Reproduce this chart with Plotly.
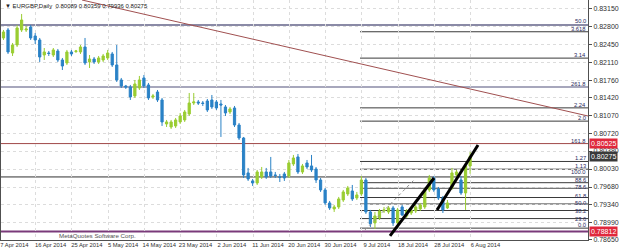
import plotly.graph_objects as go

# ---------------- data ----------------
bar_index = list(range(104))

open_ = [0.82580, 0.82736, 0.82288, 0.82444, 0.82736, 0.82736, 0.82794, 0.82619, 0.82541, 0.82249,
         0.82288, 0.82249, 0.82327, 0.82152, 0.82094, 0.82308, 0.82317, 0.82308, 0.82405, 0.82113,
         0.82171, 0.82113, 0.82152, 0.82191, 0.82269, 0.82055, 0.81763, 0.81646, 0.81627, 0.81452,
         0.81607, 0.81802, 0.81666, 0.81432, 0.81529, 0.81374, 0.80907, 0.80848, 0.80868, 0.80946,
         0.80985, 0.81101, 0.81315, 0.81335, 0.81315, 0.81354, 0.81374, 0.81335, 0.81296, 0.81238,
         0.81140, 0.81218, 0.80887, 0.80634, 0.79954, 0.79798, 0.79759, 0.79876, 0.79973, 0.79973,
         0.79915, 0.79876, 0.79934, 0.79895, 0.80129, 0.80265, 0.79973, 0.80148, 0.80090, 0.80031,
         0.79817, 0.79623, 0.79370, 0.79253, 0.79292, 0.79428, 0.79545, 0.79603, 0.79467, 0.79545,
         0.79817, 0.79195, 0.78981, 0.79078, 0.79214, 0.79195, 0.79273, 0.78981, 0.79292, 0.79117,
         0.79175, 0.79214, 0.79253, 0.79292, 0.79623, 0.79856, 0.79642, 0.79467, 0.79273, 0.79662,
         0.79915, 0.79817, 0.79564, 0.80089]
high = [0.82736, 0.82775, 0.82483, 0.82833, 0.83047, 0.82813, 0.82833, 0.82677, 0.82580, 0.82385,
        0.82327, 0.82385, 0.82366, 0.82191, 0.82347, 0.82347, 0.82347, 0.82444, 0.82580, 0.82249,
        0.82210, 0.82230, 0.82269, 0.82347, 0.82308, 0.82444, 0.81802, 0.81666, 0.81666, 0.81763,
        0.81841, 0.81860, 0.81705, 0.81491, 0.81568, 0.81413, 0.80985, 0.80985, 0.81024, 0.81121,
        0.81179, 0.81510, 0.81510, 0.81374, 0.81354, 0.81393, 0.81471, 0.81374, 0.81374, 0.81276,
        0.81238, 0.81257, 0.80926, 0.80654, 0.80051, 0.79837, 0.80012, 0.80070, 0.80051, 0.80265,
        0.79973, 0.79934, 0.79973, 0.80206, 0.80304, 0.80323, 0.80129, 0.80206, 0.80304, 0.80070,
        0.79856, 0.79662, 0.79409, 0.79331, 0.79487, 0.79623, 0.79701, 0.79720, 0.79584, 0.79895,
        0.79856, 0.79234, 0.79195, 0.79253, 0.79292, 0.79312, 0.79312, 0.79273, 0.79331, 0.79253,
        0.79273, 0.79331, 0.79370, 0.79662, 0.79915, 0.79895, 0.79681, 0.79506, 0.79428, 0.80051,
        0.80012, 0.79895, 0.80129, 0.80359]
low = [0.82541, 0.82269, 0.82230, 0.82405, 0.82697, 0.82697, 0.82541, 0.82463, 0.82113, 0.82152,
       0.82230, 0.82210, 0.82113, 0.81957, 0.82055, 0.82230, 0.82288, 0.82269, 0.82055, 0.81996,
       0.82074, 0.82074, 0.82113, 0.82152, 0.82016, 0.81724, 0.81607, 0.81588, 0.81374, 0.81413,
       0.81568, 0.81607, 0.81374, 0.81393, 0.81335, 0.80868, 0.80848, 0.80810, 0.80829, 0.80907,
       0.80946, 0.81062, 0.81276, 0.81276, 0.81257, 0.81140, 0.81199, 0.81179, 0.80654, 0.81062,
       0.81101, 0.80848, 0.80596, 0.79856, 0.79798, 0.79701, 0.79720, 0.79837, 0.79837, 0.79856,
       0.79856, 0.79778, 0.79798, 0.79856, 0.80090, 0.79934, 0.79934, 0.80031, 0.79973, 0.79759,
       0.79584, 0.79331, 0.79234, 0.79195, 0.79253, 0.79389, 0.79506, 0.79409, 0.79428, 0.79506,
       0.79156, 0.78903, 0.78864, 0.79039, 0.79175, 0.79156, 0.78922, 0.78942, 0.79117, 0.79078,
       0.79136, 0.79175, 0.79214, 0.79253, 0.79584, 0.79584, 0.79428, 0.79175, 0.79253, 0.79623,
       0.79856, 0.79526, 0.79234, 0.79936]
close = [0.82697, 0.82308, 0.82444, 0.82775, 0.82930, 0.82755, 0.82580, 0.82541, 0.82210, 0.82308,
         0.82278, 0.82347, 0.82152, 0.82035, 0.82308, 0.82269, 0.82327, 0.82405, 0.82094, 0.82171,
         0.82113, 0.82191, 0.82230, 0.82288, 0.82055, 0.81763, 0.81646, 0.81627, 0.81432, 0.81685,
         0.81763, 0.81646, 0.81413, 0.81452, 0.81374, 0.80946, 0.80946, 0.80946, 0.80985, 0.81062,
         0.81140, 0.81315, 0.81335, 0.81315, 0.81306, 0.81179, 0.81238, 0.81218, 0.81276, 0.81121,
         0.81199, 0.80887, 0.80634, 0.79915, 0.79837, 0.79759, 0.79973, 0.79973, 0.79876, 0.79895,
         0.79905, 0.79870, 0.79856, 0.80148, 0.80245, 0.79973, 0.80090, 0.80070, 0.80012, 0.79817,
         0.79623, 0.79370, 0.79273, 0.79292, 0.79448, 0.79584, 0.79662, 0.79448, 0.79526, 0.79817,
         0.79195, 0.78961, 0.79117, 0.79214, 0.79234, 0.79273, 0.78981, 0.79234, 0.79136, 0.79214,
         0.79234, 0.79292, 0.79331, 0.79623, 0.79856, 0.79623, 0.79467, 0.79234, 0.79370, 0.79954,
         0.79973, 0.79564, 0.80090, 0.80275]

price_ticks = [0.83150, 0.82800, 0.82450, 0.82110, 0.81760, 0.81420, 0.81070,
               0.80720, 0.80380, 0.80030, 0.79680, 0.79340, 0.78990, 0.78650]
price_tick_text = ["%.5f" % p for p in price_ticks]

date_grid_bar = [-0.9, 7.1, 15.1, 23.1, 31.1, 39.1, 47.1, 55.1, 63.1, 71.1, 79.1, 87.1, 95.1, 103.1]
date_labels = ["7 Apr 2014", "16 Apr 2014", "25 Apr 2014", "5 May 2014", "14 May 2014",
               "23 May 2014", "2 Jun 2014", "11 Jun 2014", "20 Jun 2014", "30 Jun 2014",
               "9 Jul 2014", "18 Jul 2014", "28 Jul 2014", "6 Aug 2014"]
date_label_bar = [b + 3.3 for b in date_grid_bar]

x_range = [-0.55, 129.03]
y_range = [0.78649, 0.83319]

# drawn objects (bar index, price)
full_lines = [  # price, colour, width
    (0.82833, "#8a8aa6", 2),
    (0.81627, "#8a8aa6", 1.5),
    (0.80525, "#a04848", 1),
    (0.79876, "#303030", 1),
    (0.78812, "#7a3a7a", 2),
]
fib_start_bar = 78.7
fib_levels = [0.82701, 0.82188, 0.81220, 0.80962, 0.80177, 0.80027, 0.79764, 0.79657,
              0.79476, 0.79350, 0.79223, 0.79066, 0.78880]
fib_text = [("50.0", 0.82833), ("3.618", 0.82701), ("3.14", 0.82188), ("261.8", 0.81627),
            ("2.24", 0.81220), ("2.0", 0.80962), ("161.8", 0.80525), ("1.27", 0.80177),
            ("1.13", 0.80027), ("100.0", 0.79876), ("88.6", 0.79764), ("78.6", 0.79657),
            ("61.8", 0.79476), ("50.0", 0.79350), ("38.2", 0.79223), ("23.6", 0.79066),
            ("0.0", 0.78880)]
fib_text_shift = [0, -1, -1, -1, -1, -1, -1, -1, -1, 1, -1, -3, -2, -3, -4, -4, -1]
trend_lines = [  # x0, y0, x1, y1, colour, width, dash
    (17.33, 0.83319, 129.03, 0.81062, "#a05050", 1, "solid"),
    (79.80, 0.78845, 90.84, 0.79837, "#909090", 1, "dot"),
    (85.32, 0.78728, 95.03, 0.79856, "#000000", 3, "solid"),
    (95.70, 0.79234, 104.75, 0.80498, "#000000", 3, "solid"),
]
price_tags = [(0.80525, "#e0283c"), (0.80275, "#3a3a3a"), (0.78812, "#e0283c")]

BULL = "#9acd32"
BEAR = "#2a82c6"

fig = go.Figure()
fig.add_trace(go.Candlestick(
    x=bar_index, open=open_, high=high, low=low, close=close,
    increasing=dict(line=dict(color=BULL, width=1), fillcolor=BULL),
    decreasing=dict(line=dict(color=BEAR, width=1), fillcolor=BEAR),
    whiskerwidth=0, hoverinfo="skip", showlegend=False,
))
fig.add_trace(go.Scatter(x=[date_label_bar[5]], y=[0.80], xaxis="x2", mode="markers",
                         marker=dict(opacity=0), hoverinfo="skip", showlegend=False))

shapes = []
for p, col, w in full_lines:
    shapes.append(dict(type="line", xref="paper", x0=0, x1=1, yref="y", y0=p, y1=p,
                       line=dict(color=col, width=w), layer="below"))
for p in fib_levels:
    shapes.append(dict(type="line", xref="x", x0=fib_start_bar, x1=x_range[1], yref="y", y0=p, y1=p,
                       line=dict(color="#3a3a3a", width=1), layer="below"))
for x0, y0, x1, y1, col, w, dash in trend_lines:
    shapes.append(dict(type="line", xref="x", x0=x0, x1=x1, yref="y", y0=y0, y1=y1,
                       line=dict(color=col, width=w, dash=dash)))

FONT = "Liberation Sans, Arial, sans-serif"
annotations = []
for (t, p), s in zip(fib_text, fib_text_shift):
    annotations.append(dict(text=t, xref="paper", x=1, xanchor="right", xshift=-1,
                            yref="y", y=p, yanchor="bottom", yshift=s, showarrow=False,
                            borderpad=0, font=dict(family=FONT, size=5.8, color="#2a2a60")))
for p, col in price_tags:
    annotations.append(dict(text="%.5f" % p, xref="paper", x=1, xanchor="left", xshift=1,
                            yref="y", y=p, yanchor="middle", showarrow=False, bgcolor=col,
                            borderpad=1, font=dict(family=FONT, size=7, color="white")))
annotations.append(dict(text="\u25bc EURGBP,Daily  0.80089 0.80359 0.79936 0.80275",
                        xref="paper", x=0.004, xanchor="left", yref="paper", y=1, yanchor="top",
                        yshift=-1, showarrow=False, font=dict(family=FONT, size=6, color="#202020")))
annotations.append(dict(text="MetaQuotes Software Corp.", xref="paper", x=0.165, xanchor="center",
                        yref="paper", y=0.02, yanchor="middle", showarrow=False,
                        font=dict(family=FONT, size=6.2, color="#505050")))

fig.update_layout(
    width=625, height=249,
    margin=dict(l=1, r=37, t=0, b=9),
    paper_bgcolor="white", plot_bgcolor="white",
    showlegend=False,
    shapes=shapes, annotations=annotations,
    xaxis=dict(range=x_range, tickmode="array", tickvals=date_grid_bar, showticklabels=False,
               showgrid=True, gridcolor="#dcdcdc", griddash="dot", gridwidth=1,
               zeroline=False, showline=True, linecolor="#505050", mirror=True,
               rangeslider=dict(visible=False), ticks=""),
    xaxis2=dict(range=x_range, matches="x", overlaying="x", side="bottom", anchor="y",
                tickmode="array", tickvals=date_label_bar, ticktext=date_labels, tickangle=0,
                ticklabeloverflow="allow",
                showgrid=False, zeroline=False, showline=False, ticks="",
                tickfont=dict(family=FONT, size=5.8, color="#303030")),
    yaxis=dict(range=y_range, side="right", tickmode="array", tickvals=price_ticks,
               ticktext=price_tick_text, ticks="outside", ticklen=3, tickcolor="#505050",
               showgrid=True, gridcolor="#dcdcdc", griddash="dot", zeroline=False,
               showline=True, linecolor="#505050", mirror=True,
               tickfont=dict(family=FONT, size=7, color="#303030")),
)

fig.write_html("out.html")
